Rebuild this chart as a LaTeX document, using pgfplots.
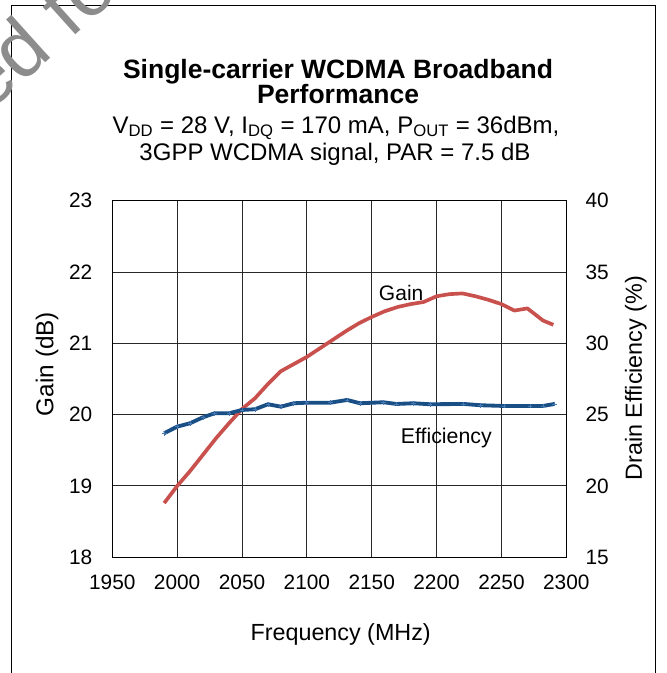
\documentclass[border=0pt]{standalone}
\usepackage{fontspec}
\setmainfont{Liberation Sans}
\usepackage{pgfplots}
\pgfplotsset{compat=1.18}
\definecolor{gainred}{RGB}{200,80,77}
\definecolor{effblue}{RGB}{26,79,133}
\definecolor{effmark}{RGB}{70,120,180}
\definecolor{gridc}{RGB}{40,40,40}

\pgfplotstableread{
f g
1990 18.76
2000 19.00
2010 19.21
2020 19.44
2030 19.67
2040 19.88
2050 20.08
2060 20.23
2070 20.43
2080 20.61
2090 20.71
2100 20.81
2110 20.93
2120 21.05
2130 21.17
2140 21.28
2150 21.37
2160 21.45
2170 21.51
2180 21.55
2190 21.58
2200 21.66
2210 21.69
2220 21.70
2230 21.66
2240 21.61
2250 21.55
2260 21.46
2270 21.49
2275 21.42
2282 21.32
2290 21.26
}\gaintable

\pgfplotstableread{
f e
1990 23.70
2000 24.16
2010 24.40
2020 24.82
2029 25.10
2040 25.10
2050 25.33
2060 25.38
2070 25.73
2080 25.56
2090 25.80
2100 25.84
2118 25.84
2131 26.03
2141 25.80
2159 25.87
2169 25.75
2182 25.80
2195 25.73
2221 25.75
2234 25.66
2252 25.61
2272 25.61
2282 25.61
2291 25.75
}\efftable

\begin{document}
\begin{tikzpicture}
\useasboundingbox (0,0) rectangle (400.2pt,-403.8pt);
\pgfplotsset{
  common/.style={
    at={(67.38pt,-334.38pt)}, anchor=south west,
    scale only axis, width=272.4pt, height=213.96pt,
    xmin=1950, xmax=2300,
    xtick={1950,2000,...,2300},
    major tick length=0pt,
    /pgf/number format/assume math mode=true,
    /pgf/number format/1000 sep={},
    ticklabel style={font=\fontsize{12.5}{14}\selectfont, inner sep=0pt},
    label style={font=\fontsize{14}{16}\selectfont},
    axis line style={black, line width=0.6pt},
  }
}
\begin{axis}[common,
  ymin=18, ymax=23, ytick={18,...,23},
  grid=major, major grid style={gridc, line width=0.6pt},
  yticklabel style={anchor=east, xshift=-11.8pt},
  xticklabel style={anchor=north, yshift=-10.6pt},
  xlabel={Frequency (MHz)},
  xlabel style={at={(axis description cs:0.503,-0.232)}, anchor=base},
  ylabel={Gain (dB)},
  ylabel style={at={(axis description cs:-0.130,0.542)}, anchor=base, font=\fontsize{14.6}{16}\selectfont},
]
\addplot[gainred, line width=2.2pt, line join=round] table[x=f,y=g] {\gaintable};
\node[font=\fontsize{12.6}{14}\selectfont, anchor=base] at (axis cs:2172.7,21.6) {Gain};
\node[font=\fontsize{12.8}{14}\selectfont, anchor=base] at (axis cs:2207.5,19.6) {Efficiency};
\node[font=\fontsize{4.8}{5}\selectfont, text=black!75, anchor=base, inner sep=0pt] at (axis cs:2268,17.89) {ptfc210202fc\_g4};
\end{axis}
\begin{axis}[common,
  ymin=15, ymax=40, ytick={15,20,...,40},
  axis x line=none, axis y line*=right,
  yticklabel style={anchor=west, xshift=11.4pt},
  ylabel={Drain Efficiency (\%)},
  ylabel style={at={(axis description cs:1.1667,0.502)}, anchor=base, rotate=0},
]
\addplot[effblue, line width=2.3pt, line join=round, mark=+, mark size=1.4pt, mark options={effmark, line width=0.5pt}] table[x=f,y=e] {\efftable};
\end{axis}
\begin{scope}[x=0.6pt,y=-0.6pt]
\draw[black, line width=0.6pt] (11.7,680) -- (11.7,5.3) -- (655.5,5.3) -- (655.5,680);
\node[font=\bfseries\fontsize{15.9}{18}\selectfont, anchor=base] at (338,78) {Single-carrier WCDMA Broadband};
\node[font=\bfseries\fontsize{15.9}{18}\selectfont, anchor=base] at (338,103) {Performance};
\node[font=\fontsize{14.4}{16}\selectfont, anchor=base] at (336,133) {V\textsubscript{DD} = 28 V, I\textsubscript{DQ} = 170 mA, P\textsubscript{OUT} = 36dBm,};
\node[font=\fontsize{14.4}{16}\selectfont, anchor=base] at (335,160) {3GPP WCDMA signal, PAR = 7.5 dB};
\node[font=\fontsize{48}{50}\selectfont, text=black!45, rotate=42, anchor=base west, inner sep=0pt] at (-12,114) {ed fo};
\end{scope}
\end{tikzpicture}
\end{document}
